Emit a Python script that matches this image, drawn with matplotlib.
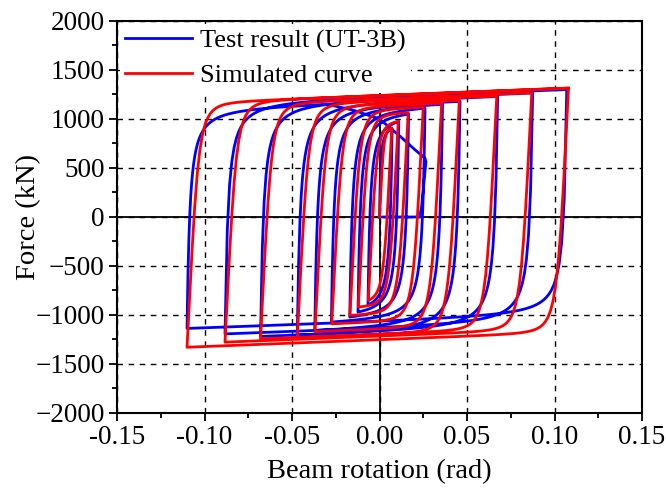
import matplotlib
import numpy as np

matplotlib.use("Agg")
from matplotlib import pyplot as plt
from matplotlib.ticker import MultipleLocator

# reversal points (rotation in rad, force in kN)
red_rot = [0.007, -0.0064, 0.0107, -0.0121, 0.0164, -0.0169, 0.025, -0.0273, 0.0355, -0.0369,
           0.0456, -0.047, 0.067, -0.068, 0.087, -0.0883, 0.108, -0.110, 0.108]
red_force = [910, -850, 976, -919, 1065, -1004, 1120, -1090, 1160, -1170,
             1190, -1233, 1233, -1243, 1267, -1277, 1315, -1329, 1315]

blue_rot = [0.0072, -0.0066, 0.011, -0.0123, 0.0166, -0.017, 0.026, -0.0275, 0.036, -0.037,
            0.046, -0.047, 0.0675, -0.068, 0.0875, -0.0883, 0.107, -0.110, -0.03]
blue_force = [900, -900, 975, -970, 1050, -1021, 1110, -1072, 1150, -1158,
              1180, -1205, 1230, -1219, 1265, -1193, 1300, -1137, 1150]

# fracture path at the end of the test
tail_rot = [-0.03, -0.015, 0.0, 0.012, 0.02, 0.026, 0.0265, 0.024, 0.023, 0.0]
tail_force = [1150, 1090, 1000, 820, 690, 600, 560, 100, 0, 0]

# Menegotto-Pinto branch parameters: elastic stiffness, hardening slope, R
RED_MODEL = (3.5e5, 700.0, 3.0)
BLUE_MODEL = (1.2e6, 600.0, 1.2)


def branch(x0, f0, x1, f1, model, n=150):
    """One half-cycle between two reversal points."""
    k, kh, r = model
    # asymptote through the target peak, elastic line through the start
    c = f1 - kh * x1
    xa = (c - f0 + k * x0) / (k - kh)
    fa = f0 + k * (xa - x0)
    x = np.linspace(x0, x1, n)
    xs = (x - x0) / (xa - x0)
    b = kh / k
    fs = b * xs + (1 - b) * xs / (1 + np.abs(xs) ** r) ** (1 / r)
    f = f0 + fs * (fa - f0)
    f = f0 + (f - f0) * (f1 - f0) / (f[-1] - f0)
    return x, f


def hysteresis(rots, forces, model):
    xs, fs = [], []
    x0, f0 = 0.0, 0.0
    for x1, f1 in zip(rots, forces):
        x, f = branch(x0, f0, x1, f1, model)
        xs.append(x)
        fs.append(f)
        x0, f0 = x1, f1
    return np.concatenate(xs), np.concatenate(fs)


plt.rcParams["font.family"] = ["Liberation Serif", "DejaVu Serif"]

fig = plt.figure(figsize=(6.66, 4.88), dpi=100)
ax = fig.add_axes([0.1757, 0.1537, 0.7883, 0.8033])

bx, bf = hysteresis(blue_rot, blue_force, BLUE_MODEL)
bx = np.concatenate([bx, tail_rot])
bf = np.concatenate([bf, tail_force])
rx, rf = hysteresis(red_rot, red_force, RED_MODEL)

ax.plot(bx, bf, color="#0000ff", lw=2.0, label="Test result (UT-3B)", zorder=3)
ax.plot(rx, rf, color="#ff0000", lw=2.0, label="Simulated curve", zorder=4)

ax.axhline(0, color="black", lw=1.3, zorder=2)
ax.axvline(0, color="black", lw=1.3, zorder=2)
ax.grid(True, which="major", color="black", linestyle=(0, (4, 4)), lw=1.0, zorder=1)

ax.set_xlim(-0.15, 0.15)
ax.set_ylim(-2000, 2000)
ax.xaxis.set_major_locator(MultipleLocator(0.05))
ax.xaxis.set_minor_locator(MultipleLocator(0.025))
ax.yaxis.set_major_locator(MultipleLocator(500))
ax.yaxis.set_minor_locator(MultipleLocator(250))
ax.set_xticks(ax.get_xticks())
ax.set_xticklabels([f"{v:.2f}" for v in ax.get_xticks()])
ax.tick_params(which="both", direction="out", top=False, right=False, labelsize=19.5, width=1.3, pad=3)
ax.tick_params(which="major", length=6)
ax.tick_params(which="minor", length=3.5)
ax.set_xlim(-0.15, 0.15)
for sp in ax.spines.values():
    sp.set_linewidth(1.5)

ax.set_xlabel("Beam rotation (rad)", fontsize=20.5, labelpad=6)
ax.set_ylabel("Force (kN)", fontsize=20.5, labelpad=-4)

leg = ax.legend(loc="upper left", fontsize=19, frameon=True, handlelength=2.55, handletextpad=0.3,
                labelspacing=0.42, borderaxespad=0.1, borderpad=0.2)
leg.get_frame().set_edgecolor("none")
leg.get_frame().set_facecolor("white")
leg.get_frame().set_alpha(1.0)
leg.set_zorder(5)

fig.savefig("out.png", dpi=100)
